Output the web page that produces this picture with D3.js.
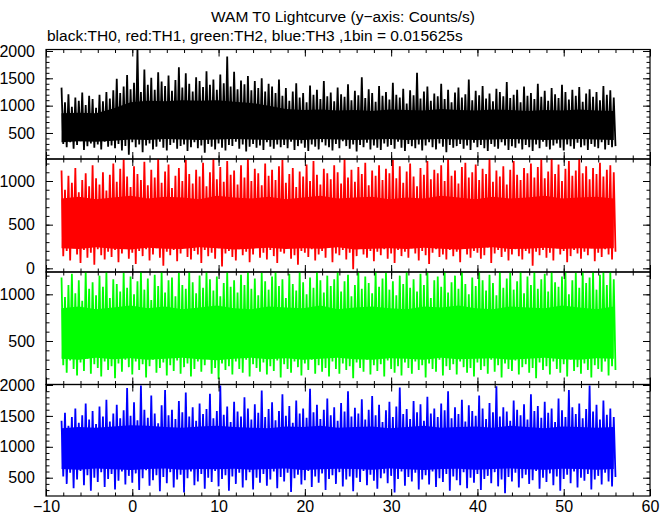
<!DOCTYPE html>
<html><head><meta charset="utf-8">
<script src="https://cdn.jsdelivr.net/npm/d3@7"></script>
<style>
body{margin:0;background:#fff}
svg{display:block}
text{font-family:"Liberation Sans",Arial,Helvetica,sans-serif;fill:#000}
</style>
</head><body>
<svg id="chart" width="672" height="515"></svg>
<script>
// ---------------- data ----------------
const titleText = "WAM T0 Lightcurve (y\u2212axis: Counts/s)";
const subtitleText = "black:TH0, red:TH1, green:TH2, blue:TH3 ,1bin = 0.015625s";
const seriesNames = ["TH0", "TH1", "TH2", "TH3"];
const startTime = -8.2;   // s, first bin
const binStep = 0.4;      // s, resampled bin (each bin: peak and trough counts/s)
const coreStep = 2.0;     // s, step of the dense-band (bulk) envelope
const xTickLabels = [-10, 0, 10, 20, 30, 40, 50, 60];

// TH0 (black) peak / trough per bin
const th0Hi = [1330,1060,1210,980,1150,1090,1240,1010,1180,1120,960,1200,1080,1250,1130,
1280,1490,1230,1350,1560,1300,1420,2040,1250,1660,1380,1510,1290,1610,1440,1360,1550,1270,1470,1700,
1330,1590,1400,1260,1520,1450,1340,1630,1380,1480,1290,1570,1410,1900,1350,1620,1300,1460,1390,1540,
1280,1450,1320,1500,1260,1400,1350,1230,1480,
1180,1320,1090,1260,1410,1150,1230,1060,1370,1200,
1290,1120,1450,1170,1240,1080,1330,1210,1160,1390,
1100,1270,1190,1520,1140,1300,1230,1070,1360,1180,
1250,1110,1420,1200,1150,1310,1040,1280,1190,1600,
1130,1260,1350,1090,1220,1170,1400,1120,1290,1060,
1240,1330,1150,1210,1480,1100,1270,1190,1360,1130,
1220,1080,1310,1250,1170,1430,1140,1200,1290,1060,
1350,1180,1230,1120,1400,1160,1270,1090,1320,1210,
1140,1380,1250,1110,1290,1180,1340,1070,1220,1300,
1160,1250,1100,1360,1200,1280,1150];
const th0Lo = [300,240,330,210,280,350,190,260,310,230,290,200,340,250,270,
220,300,180,260,100,330,240,290,150,270,310,200,250,340,230,180,280,320,210,260,
290,170,240,330,220,270,140,300,250,200,310,230,180,280,260,340,210,290,160,250,
300,230,270,190,330,250,210,290,240,
280,220,340,190,260,310,230,170,290,250,
200,330,270,240,180,300,220,350,260,210,
290,160,280,240,320,200,270,230,190,310,
250,280,210,340,230,170,300,260,220,290,
180,270,330,240,200,310,250,150,280,230,
260,300,210,270,190,320,240,280,220,170,
300,250,210,330,270,190,260,230,310,200,
280,240,170,290,220,340,250,200,270,310,
230,180,290,260,210,320,240,270,190,300,
250,220,330,200,280,240,260];
const th0CoreHi = [860,870,860,950,1060,1090,1080,1100,1090,1100,1070,1050,1000,940,920,930,910,920,900,930,920,910,940,920,910,930,920,900,920,910,930,910,900];
const th0CoreLo = [330,350,340,360,380,370,390,380,370,380,390,380,370,380,370,390,380,370,380,390,370,380,390,380,370,380,390,380,370,380,390,380,370];

// TH1 (red)
const th1Hi = [1120,900,1060,980,1150,870,1010,1090,940,1180,1030,960,1100,890,1070,1200,990,1140,1250,1050,
930,1170,1080,1010,1220,950,1130,1040,1260,980,1110,1190,920,1060,1150,1000,1240,1080,970,1130,
1050,1210,940,1100,1260,1020,1160,990,1230,1070,1120,960,1180,1040,1260,1000,1140,1090,950,1200,
1060,1130,1010,1170,1240,980,1080,1150,930,1110,1050,1190,1000,1230,1070,960,1140,1090,1020,1180,
1100,970,1250,1040,1130,990,1160,1080,1210,950,1120,1060,1180,1010,1140,1090,1240,1030,1170,980,
1110,1200,1050,940,1150,1070,1230,1020,1130,1090,1180,1000,1250,1060,1120,970,1160,1210,1040,1100,
1190,1010,1140,1080,1260,990,1120,1050,1170,960,1130,1230,1070,1010,1150,1090,1200,1040,1160,1250,
1030,1110,1260,1080,1190,1000,1140,1230,1060,1120,1260,1090,1170,1020,1150,1080,1210,1050,1130,1180,1100];
const th1Lo = [140,200,90,230,160,60,210,120,180,40,220,150,100,190,130,210,70,170,230,110,
180,50,200,140,220,90,160,230,120,30,190,150,210,80,170,240,130,100,200,160,
60,210,140,180,110,230,20,170,200,130,90,220,150,190,70,160,240,120,180,100,
210,140,60,190,170,230,110,150,40,200,180,130,220,90,160,200,120,240,70,170,
150,210,100,180,-10,140,230,160,120,200,80,190,150,220,110,170,60,210,140,190,
120,230,170,90,200,150,50,180,220,130,160,100,210,140,190,70,230,160,120,200,
180,110,150,240,60,170,210,130,190,90,160,220,140,100,200,170,30,190,150,210,
120,180,90,230,160,200,70,140,210,170,110,190,150,230,80,180,130,220,160,100,190];
const th1CoreHi = [800,820,790,810,830,800,820,810,790,830,810,800,820,790,810,830,800,810,820,790,810,800,830,810,790,820,800,810,830,800,810,820,800];
const th1CoreLo = [230,220,240,225,215,235,225,220,240,230,215,225,235,220,230,225,240,215,225,230,220,235,225,215,230,240,220,225,235,220,230,225,230];

// TH2 (green)
const th2Hi = [1180,970,1100,1220,1010,1150,930,1240,1060,1130,990,1200,1080,1240,960,1160,1110,1030,1230,1070,
1190,1000,1140,1240,1050,1170,940,1210,1090,1240,1020,1150,1180,980,1230,1100,1060,1240,1130,1010,
1200,1070,1240,1160,1040,1190,980,1120,1240,1080,1150,1020,1210,1100,1240,1060,1170,990,1230,1140,
1050,1190,1240,1090,1160,960,1220,1110,1040,1240,1130,1000,1180,1070,1240,1150,1020,1200,1090,1160,
1240,1030,1140,1210,980,1100,1240,1060,1190,1120,1010,1240,1080,1170,1230,1050,1140,990,1200,1110,
1240,1070,1160,1030,1220,1100,1240,960,1150,1190,1080,1240,1020,1130,1200,1060,1240,1110,1000,1180,
1090,1240,1150,1040,1210,1120,990,1240,1070,1170,1230,1050,1140,1240,1010,1190,1100,1240,1060,1160,
1220,1030,1240,1130,1080,1190,1240,1000,1150,1230,1070,1240,1120,1180,1240,1050,1210,1240,1100,1240,1160];
const th2Lo = [240,160,290,200,130,270,180,310,150,250,210,120,280,190,230,100,260,170,300,220,
140,280,190,250,110,230,300,160,210,270,130,240,180,290,150,220,260,120,200,280,
170,240,310,150,210,90,260,190,230,140,280,200,160,300,120,250,210,170,270,140,
230,180,290,110,250,200,160,280,220,130,260,190,300,150,240,170,210,120,280,200,
150,260,190,230,100,270,210,170,300,140,240,180,250,120,290,200,160,230,130,270,
210,150,280,190,240,110,260,200,170,300,130,230,190,250,140,280,220,160,210,120,
270,190,230,150,300,170,240,110,260,200,180,290,140,220,250,160,210,100,270,190,
230,140,280,200,160,250,120,300,180,220,150,260,190,110,240,200,170,280,130,230,190];
const th2CoreHi = [850,870,840,860,880,850,870,840,860,880,850,840,870,860,850,880,840,860,870,850,840,870,860,880,850,840,870,860,850,880,860,840,870];
const th2CoreLo = [310,300,320,305,315,300,310,320,305,295,310,320,305,315,300,310,320,305,300,315,310,300,320,305,310,315,300,310,320,305,300,315,310];

// TH3 (blue)
const th3Hi = [1420,1550,1340,1480,1620,1390,1510,1700,1440,1580,1370,1650,1490,1760,1410,1540,1680,1460,1590,1950,
1500,1720,1430,1990,1600,1470,1830,1540,1380,1670,1920,1510,1600,1450,1740,1560,1880,1490,1640,1420,
1700,1530,1610,1860,1460,1580,1990,1520,1650,1400,1730,1570,1490,1800,1620,1440,1690,1550,1910,1480,
1610,1720,1430,1580,1850,1500,1660,1390,1750,1540,1620,1470,1940,1560,1680,1450,1600,1780,1510,1640,
1420,1710,1570,1900,1490,1630,1540,1770,1440,1600,1820,1510,1680,1400,1590,1730,1480,1650,1960,1530,
1610,1450,1740,1560,1690,1420,1810,1540,1620,1480,1700,1590,1900,1460,1640,1530,1760,1410,1670,1580,
1500,1830,1620,1450,1710,1560,1980,1490,1640,1570,1420,1750,1600,1510,1690,1440,1850,1580,1660,1470,
1730,1550,1620,1400,1780,1590,1480,1920,1640,1530,1700,1460,1610,1990,1570,1680,1440,1750,1520,1620,1480];
const th3Lo = [520,400,580,330,470,610,380,540,290,500,430,590,350,480,560,310,450,600,390,530,
420,570,300,490,620,370,460,540,280,510,410,590,340,470,550,260,490,600,380,440,
560,320,500,430,610,360,480,540,290,520,400,580,340,460,590,310,500,420,560,370,
470,600,330,510,440,580,270,490,550,390,460,610,350,520,420,570,300,480,540,400,
590,360,470,520,280,500,430,610,380,550,450,320,490,570,410,530,260,480,600,370,
510,440,580,310,470,540,390,600,350,490,430,560,290,520,460,380,590,330,500,420,
560,300,480,530,410,590,360,470,250,510,440,580,340,490,550,400,460,610,320,500,
430,570,380,520,290,480,550,410,600,340,500,450,560,310,470,530,390,580,440,360,510];
const th3CoreHi = [1300,1320,1310,1330,1350,1340,1320,1310,1330,1340,1320,1310,1300,1330,1320,1340,1310,1320,1330,1300,1320,1340,1310,1320,1330,1310,1340,1320,1300,1330,1320,1310,1320];
const th3CoreLo = [640,630,650,635,625,640,650,630,640,635,645,630,640,650,625,635,645,640,630,650,635,625,640,645,630,640,650,635,630,645,640,630,640];

// y-axis ranges of the four panels (counts/s)
const yRanges = [[24, 2027], [-42, 1252], [34, 1239], [204, 2008]];
const colors = ["#000000", "#ff0000", "#00ff00", "#0000ff"];

// ---------------- layout ----------------
const W = 672, H = 515;
const plotLeft = 46, plotRight = 650;
const panelEdges = [49.5, 159, 272, 384.5, 496];
const majorLen = 7, minorLen = 3.5;

const svg = d3.select("#chart");
svg.append("rect").attr("width", W).attr("height", H).attr("fill", "#fff");

svg.append("text").attr("x", 343).attr("y", 22).attr("text-anchor", "middle")
  .style("font-size", "15.5px").text(titleText);
svg.append("text").attr("x", 47).attr("y", 41)
  .style("font-size", "15.5px").text(subtitleText);

const x = d3.scaleLinear().domain([-10, 60]).range([plotLeft, plotRight]);
const xMinor = d3.range(-10, 61, 2);

const hiArrays = [th0Hi, th1Hi, th2Hi, th3Hi];
const loArrays = [th0Lo, th1Lo, th2Lo, th3Lo];
const coreHiArrays = [th0CoreHi, th1CoreHi, th2CoreHi, th3CoreHi];
const coreLoArrays = [th0CoreLo, th1CoreLo, th2CoreLo, th3CoreLo];

const series = hiArrays.map((hi, k) => {
  const lo = loArrays[k];
  const pts = [];
  hi.forEach((h, i) => {
    const t = startTime + i * binStep;
    pts.push({t: t, v: h});
    pts.push({t: t + binStep / 2, v: lo[i]});
  });
  const core = coreHiArrays[k].map((h, j) => ({t: startTime + j * coreStep, hi: h, lo: coreLoArrays[k][j]}));
  return {name: seriesNames[k], color: colors[k], pts: pts, core: core};
});

series.forEach((s, k) => {
  const top = panelEdges[k], bot = panelEdges[k + 1];
  const y = d3.scaleLinear().domain(yRanges[k]).range([bot, top]);
  const g = svg.append("g");

  const clipId = "clip" + k;
  svg.append("clipPath").attr("id", clipId).append("rect")
    .attr("x", plotLeft).attr("y", top).attr("width", plotRight - plotLeft).attr("height", bot - top);

  const area = d3.area().x(d => x(d.t)).y0(d => y(d.lo)).y1(d => y(d.hi));
  g.append("path").datum(s.core).attr("clip-path", `url(#${clipId})`)
    .attr("d", area).attr("fill", s.color).attr("stroke", "none");

  const line = d3.line().x(d => x(d.t)).y(d => y(d.v));
  g.append("path").datum(s.pts).attr("clip-path", `url(#${clipId})`)
    .attr("d", line).attr("fill", "none").attr("stroke", s.color)
    .attr("stroke-width", 1.8).attr("stroke-linejoin", "miter").attr("stroke-miterlimit", 2);

  const [d0, d1] = yRanges[k];
  const yMinor = d3.range(Math.ceil(d0 / 100) * 100, d1 + 1, 100);
  const yMajor = yMinor.filter(v => v % 500 === 0);

  const ax = svg.append("g").attr("class", "axes");
  ax.append("g").attr("transform", `translate(${plotLeft},0)`)
    .call(d3.axisLeft(y).tickValues(yMinor).tickSize(-minorLen).tickSizeOuter(0).tickFormat(""));
  ax.append("g").attr("transform", `translate(${plotLeft},0)`)
    .call(d3.axisLeft(y).tickValues(yMajor).tickSize(-majorLen).tickSizeOuter(0).tickPadding(11).tickFormat(d3.format("d")));
  ax.append("g").attr("transform", `translate(${plotRight},0)`)
    .call(d3.axisRight(y).tickValues(yMinor).tickSize(-minorLen).tickSizeOuter(0).tickFormat(""));
  ax.append("g").attr("transform", `translate(${plotRight},0)`)
    .call(d3.axisRight(y).tickValues(yMajor).tickSize(-majorLen).tickSizeOuter(0).tickFormat(""));
  ax.append("g").attr("transform", `translate(0,${top})`)
    .call(d3.axisBottom(x).tickValues(xMinor).tickSize(minorLen).tickSizeOuter(0).tickFormat(""));
  ax.append("g").attr("transform", `translate(0,${top})`)
    .call(d3.axisBottom(x).tickValues(xTickLabels).tickSize(majorLen).tickSizeOuter(0).tickFormat(""));
  ax.append("g").attr("transform", `translate(0,${bot})`)
    .call(d3.axisBottom(x).tickValues(xMinor).tickSize(-minorLen).tickSizeOuter(0).tickFormat(""));
  ax.append("g").attr("transform", `translate(0,${bot})`)
    .call(d3.axisBottom(x).tickValues(xTickLabels).tickSize(-majorLen).tickSizeOuter(0).tickPadding(5)
      .tickFormat(k === 3 ? (d => d < 0 ? "\u2212" + Math.abs(d) : String(d)) : ""));

  ax.selectAll(".domain").remove();
  ax.selectAll("line").attr("stroke", "#000").attr("stroke-width", 1);
  ax.selectAll("text").style("font-family", "'Liberation Sans',Arial,sans-serif")
    .style("font-size", "16px").attr("fill", "#000");

  svg.append("rect").attr("x", plotLeft).attr("y", top)
    .attr("width", plotRight - plotLeft).attr("height", bot - top)
    .attr("fill", "none").attr("stroke", "#000").attr("stroke-width", 1.2);
});
</script>
</body></html>
